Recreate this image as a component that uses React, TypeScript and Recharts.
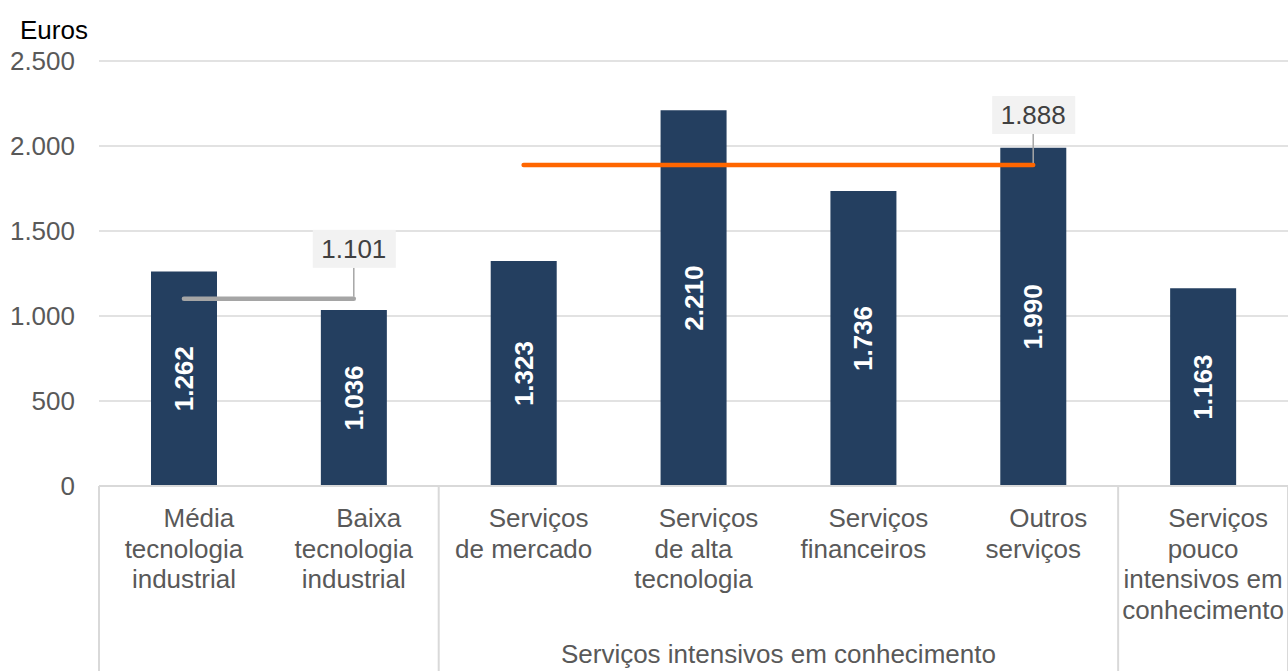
import React from 'react';
import { ComposedChart, Bar, Line, XAxis, YAxis, CartesianGrid, LabelList } from 'recharts';

const categories = [
    ['Média', 'tecnologia', 'industrial'],
    ['Baixa', 'tecnologia', 'industrial'],
    ['Serviços', 'de mercado'],
    ['Serviços', 'de alta', 'tecnologia'],
    ['Serviços', 'financeiros'],
    ['Outros', 'serviços'],
    ['Serviços', 'pouco', 'intensivos em', 'conhecimento'],
];
const salaries = [1262, 1036, 1323, 2210, 1736, 1990, 1163];
const avgIndustry = [1101, 1101, null, null, null, null, null];
const avgServices = [null, null, 1888, 1888, 1888, 1888, null];
const groupLabel = 'Serviços intensivos em conhecimento';
const yTicks = [0, 500, 1000, 1500, 2000, 2500];

const FONT = '"Liberation Sans", Arial, sans-serif';
const GREY_TEXT = '#595959';
const RULE = '#d9d9d9';

const data = categories.map((lines, i) => ({
    name: lines.join(' '),
    lines,
    value: salaries[i],
    ind: avgIndustry[i],
    serv: avgServices[i],
}));

const fmt = (v: number) => String(v).replace(/\B(?=(\d{3})+(?!\d))/g, '.');

// eslint-disable-next-line @typescript-eslint/no-explicit-any
const CategoryTick = (props: any) => {
    const { x, y, payload, index } = props;
    const half = payload?.offset || 85;
    const lines: string[] = data[index]?.lines ?? [];
    const bottom = 671;
    return (
        <g>
            {(index === 0 || index === 2 || index === 6) && (
                <line x1={x - half} x2={x - half} y1={y} y2={bottom} stroke={RULE} strokeWidth={2} />
            )}
            {index === 6 && <line x1={x + half} x2={x + half} y1={y} y2={bottom} stroke={RULE} strokeWidth={2} />}
            <text x={x} y={y + 41} textAnchor="middle" fill={GREY_TEXT} fontSize={26} fontFamily={FONT}>
                {lines.map((l, i) => (
                    <tspan key={i} x={i === 0 ? x + 15 : x} dy={i === 0 ? 0 : 30.5}>{l}</tspan>
                ))}
            </text>
            {index === 3 && (
                <text x={x + half} y={y + 177} textAnchor="middle" fill={GREY_TEXT} fontSize={26} fontFamily={FONT}>
                    {groupLabel}
                </text>
            )}
        </g>
    );
};

// eslint-disable-next-line @typescript-eslint/no-explicit-any
const BarValue = (props: any) => {
    const { x, y, width, height, value } = props;
    const cx = x + width / 2;
    const cy = y + height / 2;
    return (
        <text x={cx} y={cy} transform={`rotate(-90 ${cx} ${cy})`} textAnchor="middle" dominantBaseline="central"
            fill="#fff" fontWeight="bold" fontSize={26} fontFamily={FONT}>
            {fmt(value)}
        </text>
    );
};

// callout box above the last point of an average line
const makeCallout = (showAt: number) => {
    // eslint-disable-next-line @typescript-eslint/no-explicit-any
    return (props: any) => {
        const { x, y, value, index } = props;
        if (index !== showAt || value == null) return null;
        return (
            <g>
                <line x1={x} x2={x} y1={y - 2} y2={y - 31} stroke="#a6a6a6" strokeWidth={1.5} />
                <rect x={x - 41} y={y - 69} width={83} height={38} fill="#f2f2f2" />
                <text x={x} y={y - 50} textAnchor="middle" dominantBaseline="central" fill="#404040" fontSize={26} fontFamily={FONT}>
                    {fmt(value)}
                </text>
            </g>
        );
    };
};

const App = () => {
    return (
        <div style={{ position: 'absolute', left: 0, top: 0, width: 1288, height: 671, background: '#fff' }}>
            <svg style={{ position: 'absolute', left: 0, top: 0 }} width={120} height={50}>
                <text x={20} y={39} fill="#000" fontSize={26} fontFamily={FONT}>Euros</text>
            </svg>
            <ComposedChart width={1288} height={671} data={data} margin={{ top: 61, right: 0, left: 0, bottom: 0 }}>
                <CartesianGrid vertical={false} stroke={RULE} strokeWidth={1.5} />
                <XAxis dataKey="name" interval={0} height={185} tickLine={false} tickSize={0} tickMargin={0}
                    axisLine={{ stroke: RULE, strokeWidth: 2 }} tick={<CategoryTick />} />
                <YAxis width={99} domain={[0, 2500]} ticks={yTicks} axisLine={false} tickLine={false}
                    tickSize={0} tickMargin={24} tickFormatter={fmt}
                    tick={{ fill: GREY_TEXT, fontSize: 26, fontFamily: FONT }} />
                <Bar dataKey="value" fill="#243f60" barSize={66} isAnimationActive={false}>
                    <LabelList dataKey="value" content={<BarValue />} />
                </Bar>
                <Line dataKey="ind" stroke="#a5a5a5" strokeWidth={4.5} strokeLinecap="round" dot={false}
                    activeDot={false} isAnimationActive={false} label={makeCallout(1)} />
                <Line dataKey="serv" stroke="#ff6600" strokeWidth={4.5} strokeLinecap="round" dot={false}
                    activeDot={false} isAnimationActive={false} label={makeCallout(5)} />
            </ComposedChart>
        </div>
    );
};

export default App;
